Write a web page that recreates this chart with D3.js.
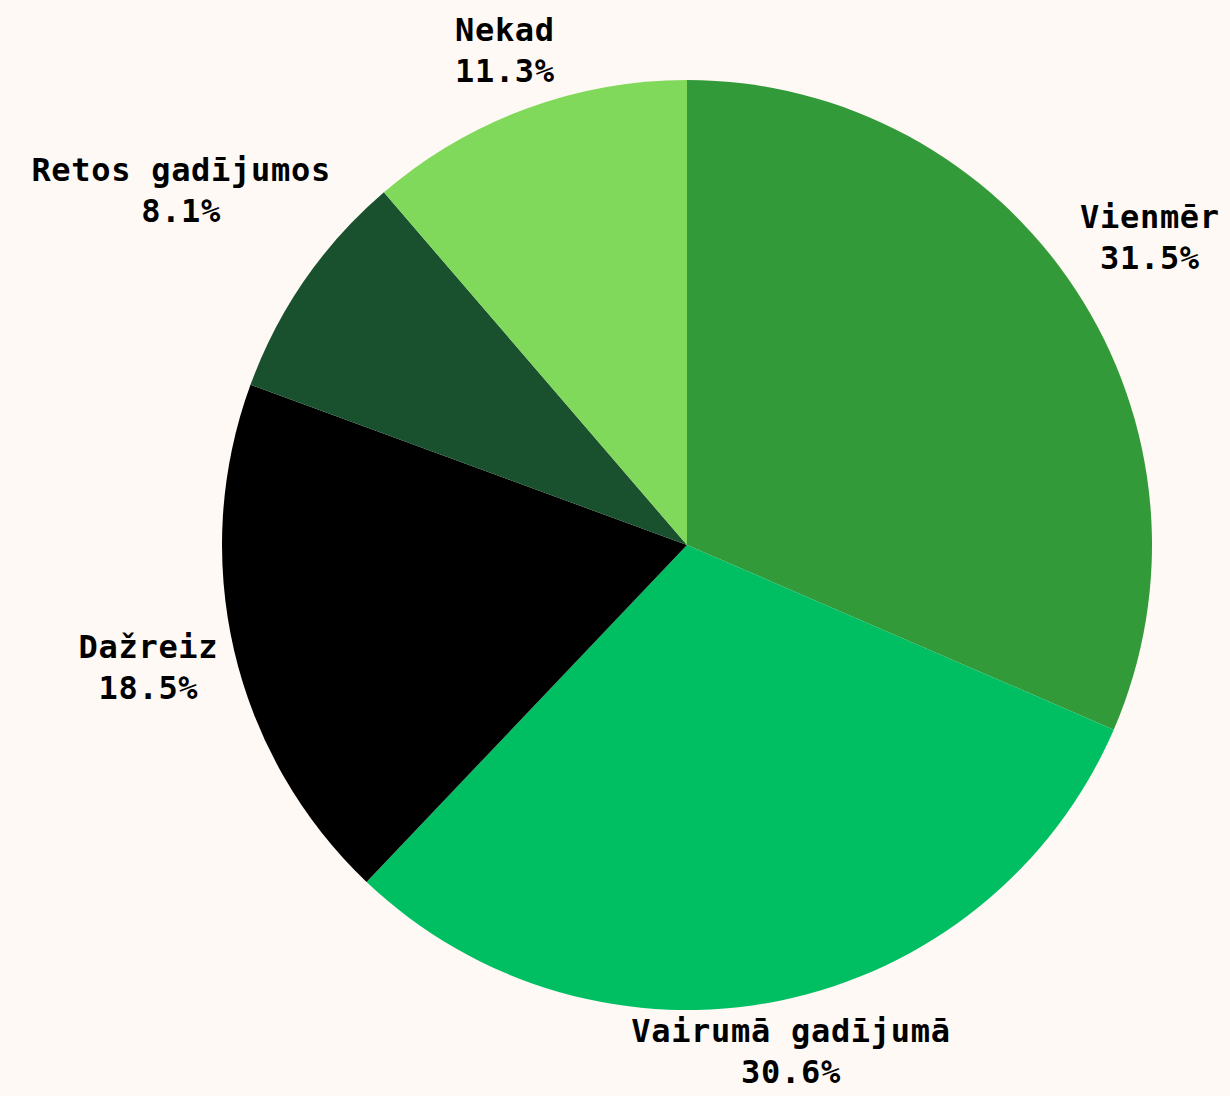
<html>
<head>
<meta charset="utf-8">
<script src="https://d3js.org/d3.v7.min.js"></script>
<style>
	body { margin: 0; background: #fef9f5; }
	svg { display: block; }
</style>
</head>
<body>
<svg id="svg" width="1230" height="1096"></svg>
<script>
'use strict';

const categories = ['Vienmēr', 'Vairumā gadījumā', 'Dažreiz', 'Retos gadījumos', 'Nekad'];
const shares = [31.5, 30.6, 18.5, 8.1, 11.3];
const colors = ['#339a3a', '#00bf63', '#000000', '#19502e', '#80d95a'];

const width = 1230;
const height = 1096;
const cx = 687;
const cy = 545;
const radius = 465;
const labelGap = 13;
const lineHeight = 41;

const data = categories.map((c, i) => ({ name: c, value: shares[i], color: colors[i] }));

const svg = d3.select('#svg');
svg.append('rect').attr('width', width).attr('height', height).attr('fill', '#fef9f5');

const pie = d3.pie().sort(null).value(d => d.value);
const arc = d3.arc().innerRadius(0).outerRadius(radius);
const arcs = pie(data);

const g = svg.append('g').attr('transform', `translate(${cx},${cy})`);

g.selectAll('path')
	.data(arcs)
	.join('path')
	.attr('d', arc)
	.attr('fill', d => d.data.color);

// labels: box centre sits on the mid-angle ray, pushed out until the box clears the circle
const labels = g.selectAll('g.label')
	.data(arcs)
	.join('g')
	.attr('class', 'label');

labels.each(function(d) {
	const sel = d3.select(this);
	const lines = [d.data.name, d3.format('.1f')(d.data.value) + '%'];
	const texts = sel.selectAll('text')
		.data(lines)
		.join('text')
		.attr('text-anchor', 'middle')
		.attr('font-family', '"DejaVu Sans Mono", monospace')
		.attr('font-weight', 'bold')
		.attr('font-size', 32)
		.attr('letter-spacing', 0.7)
		.attr('fill', '#000')
		.attr('y', (t, i) => i === 0 ? -13 : -13 + lineHeight)
		.text(t => t);

	let w = 0;
	texts.each(function() { w = Math.max(w, this.getComputedTextLength()); });
	const hw = w / 2;
	const hh = 32;
	const a = (d.startAngle + d.endAngle) / 2;
	const ux = Math.sin(a);
	const uy = -Math.cos(a);
	const target = radius + labelGap;

	function boxDist(t) {
		const dx = Math.max(Math.abs(ux * t) - hw, 0);
		const dy = Math.max(Math.abs(uy * t) - hh, 0);
		return Math.sqrt(dx * dx + dy * dy);
	}
	let lo = 0;
	let hi = 2000;
	for (let k = 0; k < 60; k++) {
		const mid = (lo + hi) / 2;
		if (boxDist(mid) < target) {
			lo = mid;
		} else {
			hi = mid;
		}
	}
	sel.attr('transform', `translate(${ux * hi},${uy * hi})`);
});
</script>
</body>
</html>
